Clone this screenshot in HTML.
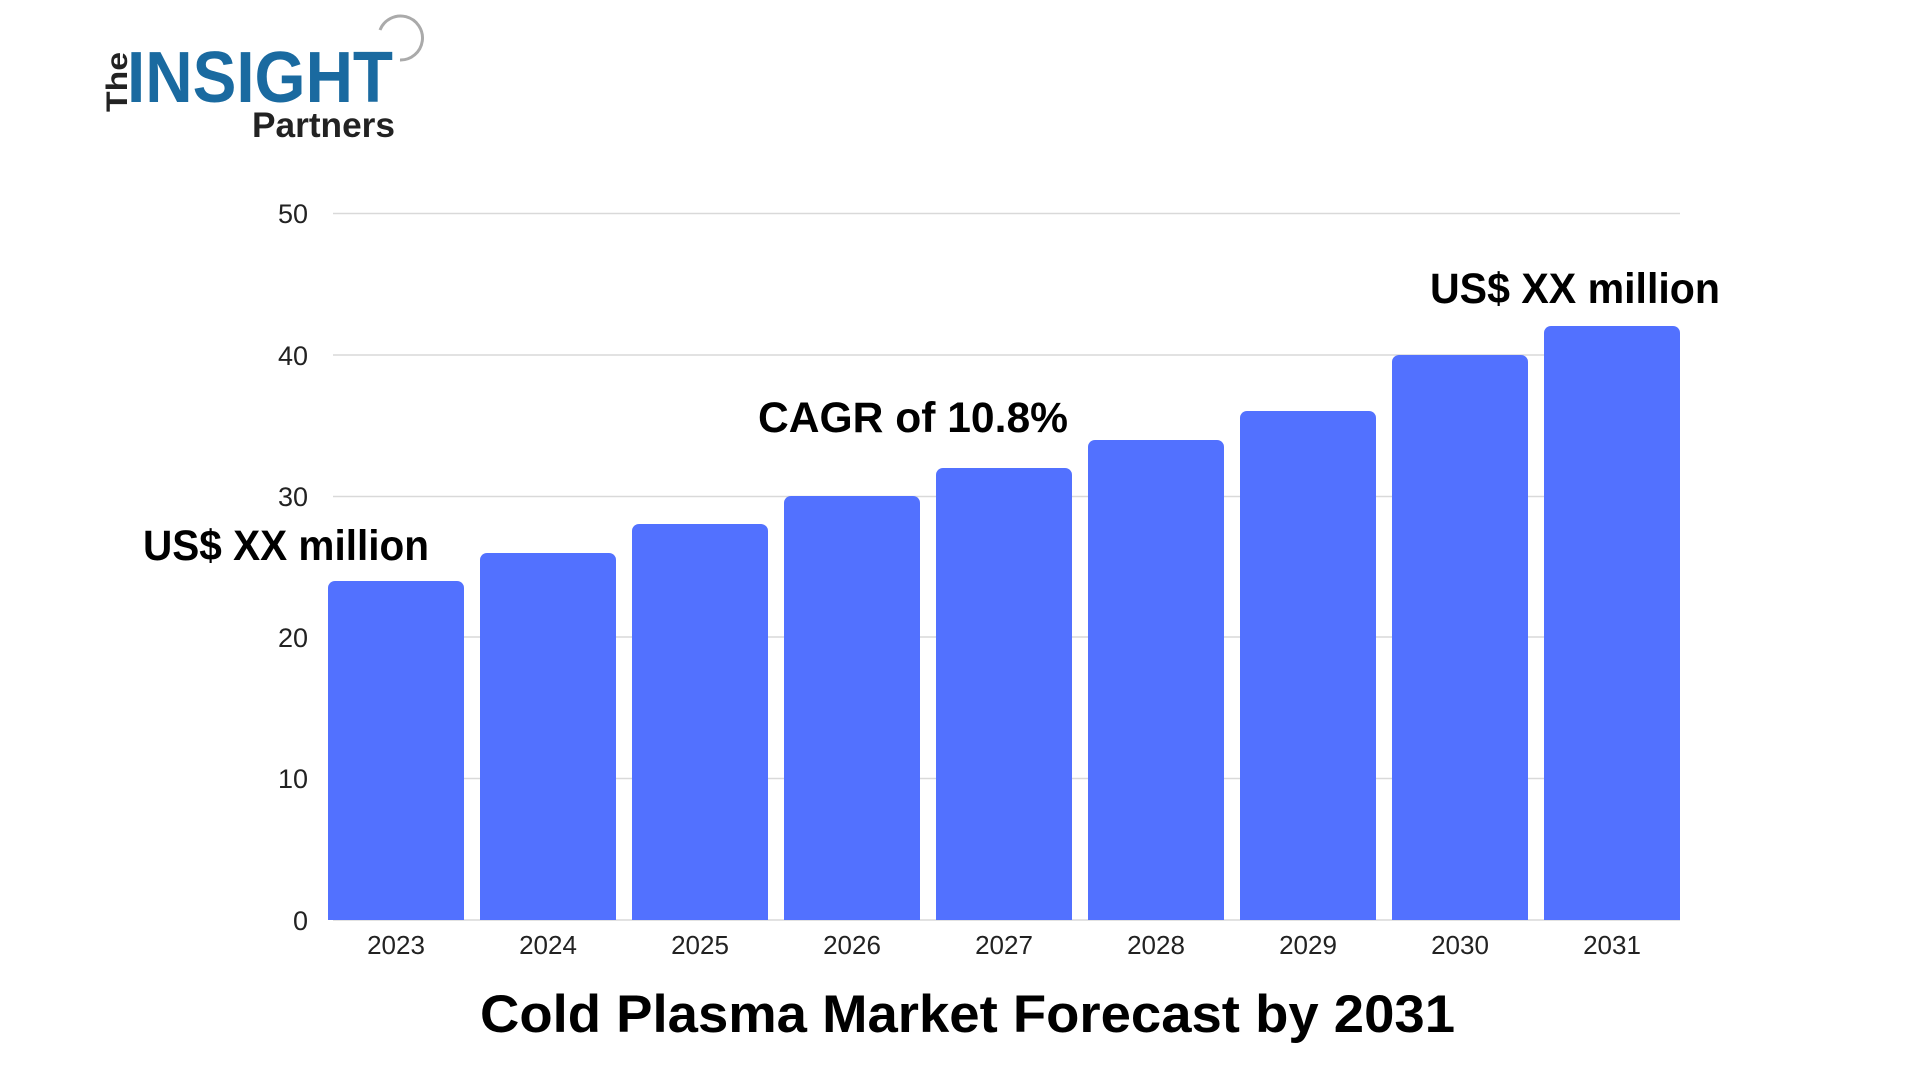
<!DOCTYPE html>
<html><head><meta charset="utf-8"><style>
html,body{margin:0;padding:0;background:#fff;width:1920px;height:1080px;overflow:hidden}
</style></head><body>
<svg width="1920" height="1080" viewBox="0 0 1920 1080" xmlns="http://www.w3.org/2000/svg" font-family="Liberation Sans, sans-serif">
<rect width="1920" height="1080" fill="#fff"/>
<!-- logo -->
<text x="0" y="0" transform="translate(127,112) rotate(-90)" font-size="30" font-weight="bold" fill="#222" textLength="60" lengthAdjust="spacingAndGlyphs">The</text>
<text x="127" y="102" font-size="72" font-weight="bold" fill="#1a6aa0" textLength="266" lengthAdjust="spacingAndGlyphs">INSIGHT</text>
<text x="252" y="137" font-size="35" font-weight="bold" fill="#222" textLength="143" lengthAdjust="spacingAndGlyphs">Partners</text>
<path d="M400 60 A22 22 0 1 0 380 30" fill="none" stroke="#aaa" stroke-width="3"/>
<!-- gridlines -->
<g stroke="#d9d9d9" stroke-width="1.5">
<line x1="333" x2="1680" y1="213.5" y2="213.5"/>
<line x1="333" x2="1680" y1="355" y2="355"/>
<line x1="333" x2="1680" y1="496.5" y2="496.5"/>
<line x1="333" x2="1680" y1="637" y2="637"/>
<line x1="333" x2="1680" y1="778.5" y2="778.5"/>
<line x1="333" x2="1680" y1="920" y2="920"/>
</g>
<g font-size="27" fill="#222" text-anchor="end">
<text x="308" y="223">50</text>
<text x="308" y="365">40</text>
<text x="308" y="506">30</text>
<text x="308" y="647">20</text>
<text x="308" y="788">10</text>
<text x="308" y="930">0</text>
</g>
<!-- bars -->
<g fill="#5271ff">
<path d="M328 920 V588 a7 7 0 0 1 7 -7 H457 a7 7 0 0 1 7 7 V920Z"/>
<path d="M480 920 V560 a7 7 0 0 1 7 -7 H609 a7 7 0 0 1 7 7 V920Z"/>
<path d="M632 920 V531 a7 7 0 0 1 7 -7 H761 a7 7 0 0 1 7 7 V920Z"/>
<path d="M784 920 V503 a7 7 0 0 1 7 -7 H913 a7 7 0 0 1 7 7 V920Z"/>
<path d="M936 920 V475 a7 7 0 0 1 7 -7 H1065 a7 7 0 0 1 7 7 V920Z"/>
<path d="M1088 920 V447 a7 7 0 0 1 7 -7 H1217 a7 7 0 0 1 7 7 V920Z"/>
<path d="M1240 920 V418 a7 7 0 0 1 7 -7 H1369 a7 7 0 0 1 7 7 V920Z"/>
<path d="M1392 920 V362 a7 7 0 0 1 7 -7 H1521 a7 7 0 0 1 7 7 V920Z"/>
<path d="M1544 920 V333 a7 7 0 0 1 7 -7 H1673 a7 7 0 0 1 7 7 V920Z"/>
</g>
<g font-size="26" fill="#222" text-anchor="middle">
<text x="396" y="954">2023</text>
<text x="548" y="954">2024</text>
<text x="700" y="954">2025</text>
<text x="852" y="954">2026</text>
<text x="1004" y="954">2027</text>
<text x="1156" y="954">2028</text>
<text x="1308" y="954">2029</text>
<text x="1460" y="954">2030</text>
<text x="1612" y="954">2031</text>
</g>
<g font-weight="bold" fill="#000">
<text x="143" y="560" font-size="43" textLength="286" lengthAdjust="spacingAndGlyphs">US$ XX million</text>
<text x="758" y="432" font-size="43" textLength="310" lengthAdjust="spacingAndGlyphs">CAGR of 10.8%</text>
<text x="1430" y="303" font-size="43" textLength="290" lengthAdjust="spacingAndGlyphs">US$ XX million</text>
<text x="480" y="1032" font-size="53" textLength="975" lengthAdjust="spacingAndGlyphs">Cold Plasma Market Forecast by 2031</text>
</g>
</svg>
</body></html>
